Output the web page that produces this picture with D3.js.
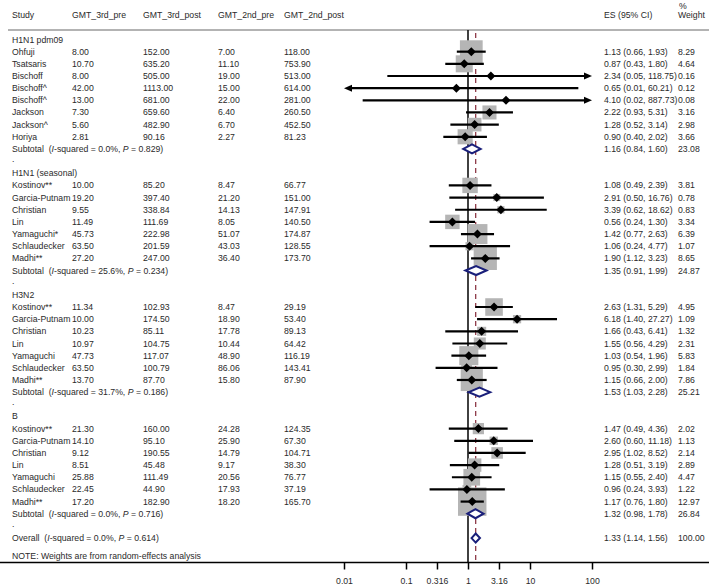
<!DOCTYPE html>
<html><head><meta charset="utf-8">
<script src="https://cdn.jsdelivr.net/npm/d3@7"></script>
<style>
body{margin:0;background:#fff;}
svg text{font-family:"Liberation Sans",Arial,sans-serif;font-size:8.7px;fill:#2a2a2a;}
</style></head>
<body><svg id="c" width="709" height="586"></svg>
<script>
const groupNames = ["H1N1 pdm09","H1N1 (seasonal)","H3N2","B"];
const studyGroup = [0,0,0,0,0,0,0,0, 1,1,1,1,1,1,1, 2,2,2,2,2,2,2, 3,3,3,3,3,3,3];
const studyLabels = ["Ohfuji","Tsatsaris","Bischoff","Bischoff^","Bischoff^","Jackson","Jackson^","Horiya",
  "Kostinov**","Garcia-Putnam","Christian","Lin","Yamaguchi*","Schlaudecker","Madhi**",
  "Kostinov**","Garcia-Putnam","Christian","Lin","Yamaguchi","Schlaudecker","Madhi**",
  "Kostinov**","Garcia-Putnam","Christian","Lin","Yamaguchi","Schlaudecker","Madhi**"];
const gmt3Pre  = [8.00,10.70,8.00,42.00,13.00,7.30,5.60,2.81, 10.00,19.20,9.55,11.49,45.73,63.50,27.20, 11.34,10.00,10.23,10.97,47.73,63.50,13.70, 21.30,14.10,9.12,8.51,25.88,22.45,17.20];
const gmt3Post = [152.00,635.20,505.00,1113.00,681.00,659.60,482.90,90.16, 85.20,397.40,338.84,111.69,222.98,201.59,247.00, 102.93,174.50,85.11,104.75,117.07,100.79,87.70, 160.00,95.10,190.55,45.48,111.49,44.90,182.90];
const gmt2Pre  = [7.00,11.10,19.00,15.00,22.00,6.40,6.70,2.27, 8.47,21.20,14.13,8.05,51.07,43.03,36.40, 8.47,18.90,17.78,10.44,48.90,86.06,15.80, 24.28,25.90,14.79,9.17,20.56,17.93,18.20];
const gmt2Post = [118.00,753.90,513.00,614.00,281.00,260.50,452.50,81.23, 66.77,151.00,147.91,140.50,174.87,128.55,173.70, 29.19,53.40,89.13,64.42,116.19,143.41,87.90, 124.35,67.30,104.71,38.30,76.77,37.19,165.70];
const esVal  = [1.13,0.87,2.34,0.65,4.10,2.22,1.28,0.90, 1.08,2.91,3.39,0.56,1.42,1.06,1.90, 2.63,6.18,1.66,1.55,1.03,0.95,1.15, 1.47,2.60,2.95,1.28,1.15,0.96,1.17];
const ciLow  = [0.66,0.43,0.05,0.01,0.02,0.93,0.52,0.40, 0.49,0.50,0.62,0.24,0.77,0.24,1.12, 1.31,1.40,0.43,0.56,0.54,0.30,0.66, 0.49,0.60,1.02,0.51,0.55,0.24,0.76];
const ciHigh = [1.93,1.80,118.75,60.21,887.73,5.31,3.14,2.02, 2.39,16.76,18.62,1.30,2.63,4.77,3.23, 5.29,27.27,6.41,4.29,1.96,2.99,2.00, 4.36,11.18,8.52,3.19,2.40,3.93,1.80];
const weightPct = [8.29,4.64,0.16,0.12,0.08,3.16,2.98,3.66, 3.81,0.78,0.83,3.34,6.39,1.07,8.65, 4.95,1.09,1.32,2.31,5.83,1.84,7.86, 2.02,1.13,2.14,2.89,4.47,1.22,12.97];
const subES = [1.16,1.35,1.53,1.32];
const subLo = [0.84,0.91,1.03,0.98];
const subHi = [1.60,1.99,2.28,1.78];
const subW  = ["23.08","24.87","25.21","26.84"];
const subI2 = ["0.0%","25.6%","31.7%","0.0%"];
const subP  = ["0.829","0.234","0.186","0.716"];
const overallES = 1.33, overallLo = 1.14, overallHi = 1.56, overallW = "100.00", overallI2 = "0.0%", overallP = "0.614";
const tickVals = [0.01,0.1,0.316,1,3.16,10,100];
const tickLabels = ["0.01","0.1","0.316","1","3.16","10","100"];
const headers = ["Study","GMT_3rd_pre","GMT_3rd_post","GMT_2nd_pre","GMT_2nd_post"];

const svg = d3.select("#c");
const W = 709, H = 586;
const x = d3.scaleLog().domain([0.01,100]).range([344,592]);
const row0 = 39.5, rowH = 12.16;
const yRow = i => row0 + i*rowH;
const colX = [12,72,143,218,284];
const esX = 604, wX = 678;
const axisY = 562.5;

// build rows
const rows = [];
let r = 0;
groupNames.forEach((g,gi)=>{
  rows.push({type:"group", label:g, i:r++});
  studyLabels.forEach((s,si)=>{ if(studyGroup[si]===gi) rows.push({type:"study", si, i:r++}); });
  rows.push({type:"sub", gi, i:r++});
  rows.push({type:"dot", i:r++});
});
const overallRow = r;

// header
svg.append("text").attr("x",colX[0]).attr("y",18).text(headers[0]);
headers.slice(1).forEach((h,k)=>svg.append("text").attr("x",colX[k+1]).attr("y",18).text(h));
svg.append("text").attr("x",esX).attr("y",18).text("ES (95% CI)");
svg.append("text").attr("x",wX+1).attr("y",8.5).text("%");
svg.append("text").attr("x",wX).attr("y",18).text("Weight");
svg.append("line").attr("x1",8).attr("x2",W).attr("y1",30).attr("y2",30).attr("stroke","#9a9a9a").attr("stroke-width",1.5);

// reference lines
svg.append("line").attr("x1",x(1)).attr("x2",x(1)).attr("y1",30).attr("y2",axisY).attr("stroke","#111").attr("stroke-width",1.6);
svg.append("line").attr("x1",x(overallES)).attr("x2",x(overallES)).attr("y1",33).attr("y2",axisY)
  .attr("stroke","#8e3a48").attr("stroke-width",1.3).attr("stroke-dasharray","5,4");

const plot = svg.append("g");
const studies = rows.filter(d=>d.type==="study");
// squares
plot.selectAll("rect.sq").data(studies).join("rect").attr("class","sq")
  .each(function(d){
    const s = 7.9*Math.sqrt(weightPct[d.si]);
    d3.select(this).attr("x",x(esVal[d.si])-s/2).attr("y",yRow(d.i)-s/2).attr("width",s).attr("height",s);
  }).attr("fill","#b5b5b5");

// CI lines with arrows
const [dmin,dmax] = x.domain();
studies.forEach(d=>{
  const y = yRow(d.i);
  const lo = ciLow[d.si], hi = ciHigh[d.si];
  const x1 = x(Math.max(lo,dmin)), x2 = x(Math.min(hi,dmax));
  const aL = lo <= dmin, aR = hi > dmax;
  plot.append("line").attr("x1",aL?x1+6:x1).attr("x2",aR?x2-6:x2).attr("y1",y).attr("y2",y).attr("stroke","#000").attr("stroke-width",2.2);
  if(aR) plot.append("path").attr("d",`M${x2},${y} L${x2-8},${y-3.5} L${x2-8},${y+3.5} Z`).attr("fill","#000");
  if(aL) plot.append("path").attr("d",`M${x1},${y} L${x1+8},${y-3.5} L${x1+8},${y+3.5} Z`).attr("fill","#000");
  const cx = x(esVal[d.si]);
  plot.append("path").attr("d",`M${cx},${y-4.5} L${cx+4.5},${y} L${cx},${y+4.5} L${cx-4.5},${y} Z`).attr("fill","#000");
});

// diamonds
function diamond(es,lo,hi,y){
  plot.append("path").attr("d",`M${x(lo)},${y} L${x(es)},${y-4.5} L${x(hi)},${y} L${x(es)},${y+4.5} Z`)
    .attr("fill","#fff").attr("stroke","#1a1f7a").attr("stroke-width",2);
}

function subText(y,lead,i2,p){
  const t = svg.append("text").attr("x",colX[0]).attr("y",y+3);
  t.append("tspan").text(lead+"\u00a0\u00a0(");
  t.append("tspan").attr("font-style","italic").text("I");
  t.append("tspan").text("-squared = "+i2+", ");
  t.append("tspan").attr("font-style","italic").text("P");
  t.append("tspan").text(" = "+p+")");
}
const fmt = v => v.toFixed(2);
rows.forEach(d=>{
  const y = yRow(d.i);
  if(d.type==="group") svg.append("text").attr("x",colX[0]).attr("y",y+3).text(d.label);
  else if(d.type==="dot") svg.append("text").attr("x",colX[0]).attr("y",y+1).text(".");
  else if(d.type==="study"){
    const s = d.si;
    [studyLabels[s],fmt(gmt3Pre[s]),fmt(gmt3Post[s]),fmt(gmt2Pre[s]),fmt(gmt2Post[s])].forEach((v,k)=>
      svg.append("text").attr("x",colX[k]).attr("y",y+3).text(v));
    svg.append("text").attr("x",esX).attr("y",y+3).text(`${fmt(esVal[s])} (${fmt(ciLow[s])}, ${fmt(ciHigh[s])})`);
    svg.append("text").attr("x",wX).attr("y",y+3).text(fmt(weightPct[s]));
  } else if(d.type==="sub"){
    const g = d.gi;
    subText(y,"Subtotal",subI2[g],subP[g]);
    svg.append("text").attr("x",esX).attr("y",y+3).text(`${fmt(subES[g])} (${fmt(subLo[g])}, ${fmt(subHi[g])})`);
    svg.append("text").attr("x",wX).attr("y",y+3).text(subW[g]);
    diamond(subES[g],subLo[g],subHi[g],y);
  }
});
const yo = yRow(overallRow);
subText(yo,"Overall",overallI2,overallP);
svg.append("text").attr("x",esX).attr("y",yo+3).text(`${fmt(overallES)} (${fmt(overallLo)}, ${fmt(overallHi)})`);
svg.append("text").attr("x",wX).attr("y",yo+3).text(overallW);
diamond(overallES,overallLo,overallHi,yo);
svg.append("text").attr("x",colX[0]).attr("y",559).text("NOTE: Weights are from random-effects analysis");

// axis
svg.append("line").attr("x1",0).attr("x2",W).attr("y1",axisY).attr("y2",axisY).attr("stroke","#000").attr("stroke-width",1.5);
const ax = d3.axisBottom(x).tickValues(tickVals).tickFormat((d,i)=>tickLabels[i]).tickSize(7).tickPadding(8);
const axg = svg.append("g").attr("transform",`translate(0,${axisY})`).call(ax);
axg.select(".domain").remove();
axg.selectAll(".tick line").attr("stroke","#000").attr("stroke-width",1.5);
axg.selectAll(".tick text").attr("font-family","Liberation Sans, Arial, sans-serif").attr("font-size","8.7px").attr("fill","#2a2a2a");
</script></body></html>
